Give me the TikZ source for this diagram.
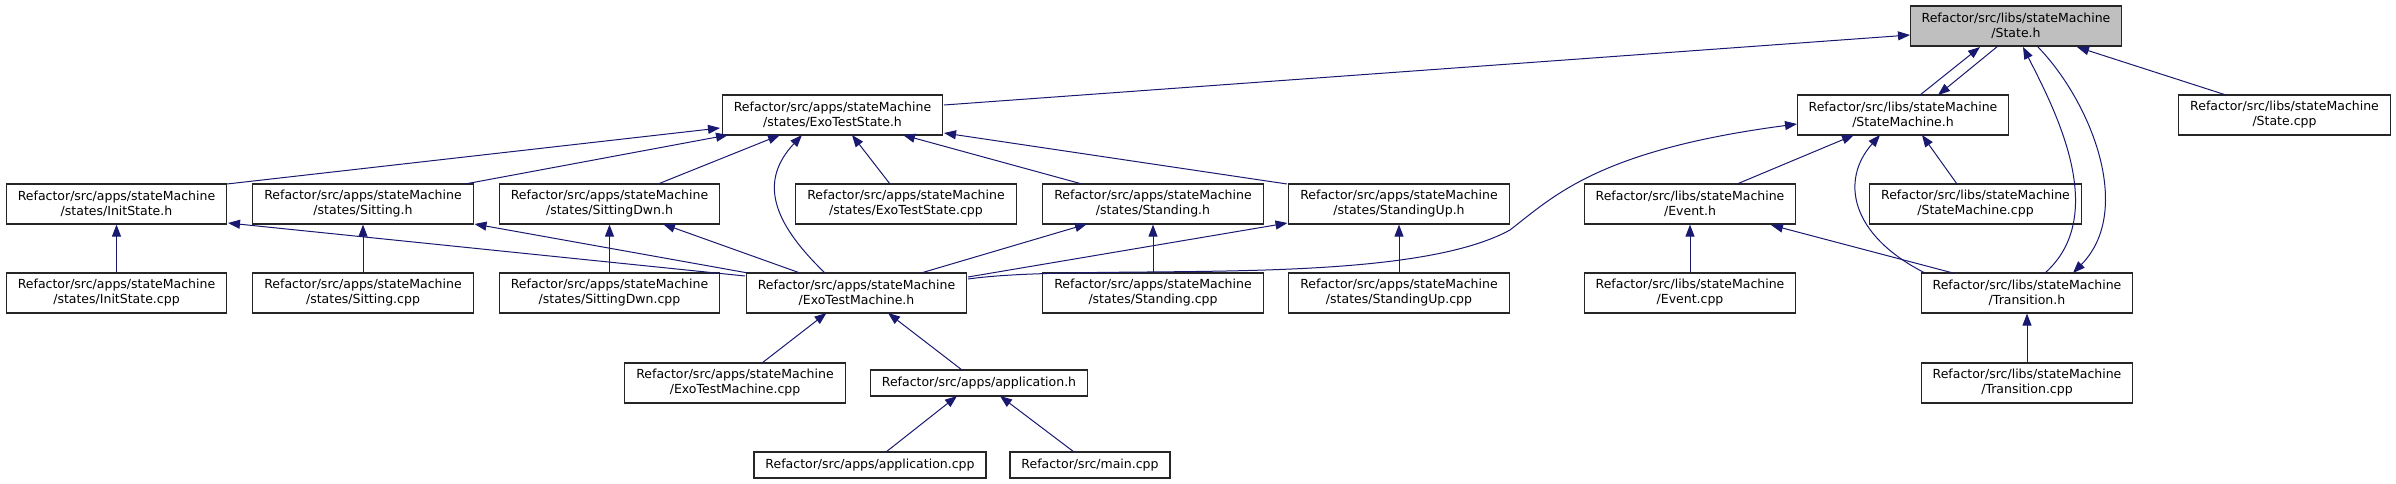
\documentclass[tikz,border=0pt]{standalone}
\usepackage{fontspec}
\setmainfont{DejaVu Sans}
\usetikzlibrary{arrows.meta,calc}
\definecolor{edgeblue}{HTML}{191970}
\definecolor{hlgray}{HTML}{BFBFBF}
\tikzset{
  file/.style={draw=black!85, line width=1.2pt, fill=white, align=center,
    inner xsep=11.5pt, inner ysep=0pt, minimum height=40pt,
    font=\fontsize{12.5}{15}\selectfont},
  fileone/.style={file, minimum height=26pt},
  dep/.style={draw=edgeblue, line width=1.0pt, -{Triangle[length=12pt,width=9pt]}},
}
\begin{document}
\begin{tikzpicture}[x=1pt,y=-1pt]
\useasboundingbox (0,0) rectangle (2396,484);
% row 1
\node[file, fill=hlgray] (ST) at (2016,26) {Refactor/src/libs/stateMachine\\/State.h};
% row 2
\node[file] (ETS) at (832.5,115) {Refactor/src/apps/stateMachine\\/states/ExoTestState.h};
\node[file] (SM) at (1903,115) {Refactor/src/libs/stateMachine\\/StateMachine.h};
\node[file] (SCPP) at (2284.5,115) {Refactor/src/libs/stateMachine\\/State.cpp};
% row 3
\node[file] (IS) at (116.5,204) {Refactor/src/apps/stateMachine\\/states/InitState.h};
\node[file] (SIT) at (363,204) {Refactor/src/apps/stateMachine\\/states/Sitting.h};
\node[file] (SD) at (609.5,204) {Refactor/src/apps/stateMachine\\/states/SittingDwn.h};
\node[file] (ETSC) at (906,204) {Refactor/src/apps/stateMachine\\/states/ExoTestState.cpp};
\node[file] (STD) at (1153,204) {Refactor/src/apps/stateMachine\\/states/Standing.h};
\node[file] (SU) at (1399,204) {Refactor/src/apps/stateMachine\\/states/StandingUp.h};
\node[file] (EV) at (1690,204) {Refactor/src/libs/stateMachine\\/Event.h};
\node[file] (SMC) at (1975.5,204) {Refactor/src/libs/stateMachine\\/StateMachine.cpp};
% row 4
\node[file] (ISC) at (116.5,293) {Refactor/src/apps/stateMachine\\/states/InitState.cpp};
\node[file] (SITC) at (363,293) {Refactor/src/apps/stateMachine\\/states/Sitting.cpp};
\node[file] (SDC) at (609.5,293) {Refactor/src/apps/stateMachine\\/states/SittingDwn.cpp};
\node[file] (ETM) at (856.5,293) {Refactor/src/apps/stateMachine\\/ExoTestMachine.h};
\node[file] (STDC) at (1153,293) {Refactor/src/apps/stateMachine\\/states/Standing.cpp};
\node[file] (SUC) at (1399,293) {Refactor/src/apps/stateMachine\\/states/StandingUp.cpp};
\node[file] (EVC) at (1690,293) {Refactor/src/libs/stateMachine\\/Event.cpp};
\node[file] (TR) at (2027,293) {Refactor/src/libs/stateMachine\\/Transition.h};
% row 5
\node[file] (ETMC) at (735,383) {Refactor/src/apps/stateMachine\\/ExoTestMachine.cpp};
\node[fileone] (APP) at (979,383) {Refactor/src/apps/application.h};
\node[file] (TRC) at (2027,383) {Refactor/src/libs/stateMachine\\/Transition.cpp};
% row 6
\node[fileone] (APPC) at (870,465) {Refactor/src/apps/application.cpp};
\node[fileone] (MAIN) at (1090,465) {Refactor/src/main.cpp};

% edges into State.h
\draw[dep] ($(ETS)+(111.5,-10)$) -- ($(ST)+(-106,9)$);
\draw[dep] ($(SM)+(17,-20)$) -- ($(ST)+(-36,21)$);
\draw[dep] ($(ST)+(-18,20)$) -- ($(SM)+(35,-20)$);
\draw[dep] ($(TR)+(18,-20)$) .. controls (2110,215) and (2055,110) .. ($(ST)+(7,21)$);
\draw[dep] ($(ST)+(21,20)$) .. controls (2090,100) and (2135,210) .. ($(TR)+(46,-20)$);
\draw[dep] ($(SCPP)+(-58.5,-20)$) -- ($(ST)+(61,21)$);
% edges into ExoTestState.h
\draw[dep] ($(IS)+(110.5,-20)$) -- ($(ETS)+(-112.5,13)$);
\draw[dep] ($(SIT)+(102,-20)$) -- ($(ETS)+(-104.5,20)$);
\draw[dep] ($(SD)+(48.5,-20)$) -- ($(ETS)+(-52.5,20)$);
\draw[dep] ($(ETM)+(-31.5,-20)$) .. controls (770,220) and (760,180) .. ($(ETS)+(-30.5,20)$);
\draw[dep] ($(ETSC)+(-16,-20)$) -- ($(ETS)+(19.5,20)$);
\draw[dep] ($(STD)+(-71,-20)$) -- ($(ETS)+(70.5,20)$);
\draw[dep] ($(SU)+(-112,-20)$) -- ($(ETS)+(111.5,18)$);
% vertical cpp edges
\draw[dep] (ISC.north) -- (IS.south);
\draw[dep] (SITC.north) -- (SIT.south);
\draw[dep] (SDC.north) -- (SD.south);
\draw[dep] (STDC.north) -- (STD.south);
\draw[dep] (SUC.north) -- (SU.south);
\draw[dep] (EVC.north) -- (EV.south);
\draw[dep] (TRC.north) -- (TR.south);
% ExoTestMachine.h edges
\draw[dep] ($(ETM)+(-111.5,-17)$) -- ($(IS)+(111.5,19)$);
\draw[dep] ($(ETM)+(-108.5,-20)$) -- ($(SIT)+(111.5,20)$);
\draw[dep] ($(ETM)+(-56.5,-20)$) -- ($(SD)+(53.5,20)$);
\draw[dep] ($(ETM)+(64.5,-20)$) -- ($(STD)+(-66,20)$);
\draw[dep] ($(ETM)+(111.5,-16)$) -- ($(SU)+(-111.5,19)$);
\draw[dep] ($(ETM)+(111.5,-14)$) .. controls (1090,262) and (1400,290) .. (1510,230)
   .. controls (1555,195) and (1600,150) .. ($(SM)+(-106,9)$);
% StateMachine.h edges
\draw[dep] ($(EV)+(47,-20)$) -- ($(SM)+(-49,20)$);
\draw[dep] ($(SMC)+(-18.5,-20)$) -- ($(SM)+(19,20)$);
\draw[dep] ($(TR)+(-102,-20)$) .. controls (1850,235) and (1840,180) .. ($(SM)+(-23,20)$);
% Event.h
\draw[dep] ($(TR)+(-74,-20)$) -- ($(EV)+(81,21)$);
% lower part
\draw[dep] ($(ETMC)+(27,-20)$) -- ($(ETM)+(-30,20)$);
\draw[dep] ($(APP)+(-17,-13)$) -- ($(ETM)+(31.5,20)$);
\draw[dep] ($(APPC)+(16,-13)$) -- ($(APP)+(-22,13)$);
\draw[dep] ($(MAIN)+(-16,-13)$) -- ($(APP)+(21,13)$);
\end{tikzpicture}
\end{document}
